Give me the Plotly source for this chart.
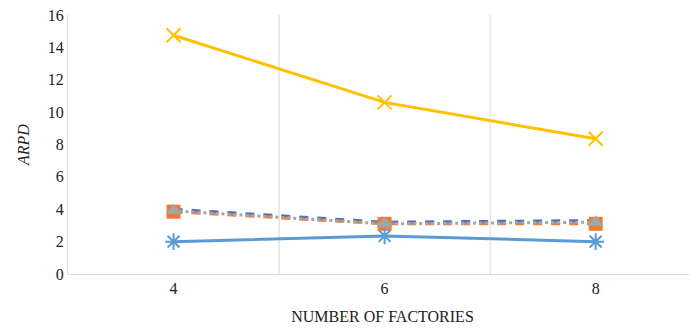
import plotly.graph_objects as go

categories = ["4", "6", "8"]
s1 = [2.0, 2.35, 2.0]      # light blue solid, asterisk
s2 = [3.85, 3.1, 3.1]      # orange dashed, square
s3 = [3.9, 3.1, 3.2]       # gray dashed, triangle
s4 = [14.75, 10.6, 8.35]   # yellow solid, x
s5 = [4.0, 3.2, 3.3]       # dark blue dashed

fig = go.Figure()
fig.add_trace(go.Scatter(x=categories, y=s5, mode="lines", line=dict(color="#4472C4", width=3, dash="dash")))
fig.add_trace(go.Scatter(x=categories, y=s2, mode="lines+markers", line=dict(color="#ED7D31", width=3, dash="dash"),
                         marker=dict(symbol="square", size=14, color="#ED7D31")))
fig.add_trace(go.Scatter(x=categories, y=s3, mode="lines+markers", line=dict(color="#A5A5A5", width=3, dash="dot"),
                         marker=dict(symbol="triangle-up", size=14, color="#A5A5A5")))
fig.add_trace(go.Scatter(x=categories, y=s1, mode="lines+markers", line=dict(color="#5B9BD5", width=3),
                         marker=dict(symbol="asterisk-open", size=14, line=dict(color="#5B9BD5", width=2))))
fig.add_trace(go.Scatter(x=categories, y=s4, mode="lines+markers", line=dict(color="#FFC000", width=3),
                         marker=dict(symbol="x-thin-open", size=14, line=dict(color="#FFC000", width=2))))

font = dict(family="Liberation Serif", size=16, color="#222")
fig.update_layout(
    width=697, height=335, showlegend=False,
    margin=dict(l=60, r=8, t=7, b=69),
    paper_bgcolor="white", plot_bgcolor="white", font=font,
    xaxis=dict(type="category", range=[-0.5, 2.48], showgrid=False, showline=True, linecolor="#D9D9D9",
               linewidth=1, ticks="", tickfont=font, automargin=False, ticklabeloverflow="allow",
               title=dict(text="NUMBER OF FACTORIES", font=font, standoff=14)),
    yaxis=dict(range=[0, 16], dtick=2, showgrid=False, showline=True, linecolor="#D9D9D9", linewidth=1,
               zeroline=False, ticks="", tickfont=font, automargin=False, ticklabeloverflow="allow",
               title=dict(text="<i>ARPD</i>", font=font, standoff=14)),
)
# vertical category-boundary gridlines
for xb in [0.5, 1.5]:
    fig.add_shape(type="line", xref="x", yref="paper", x0=xb, x1=xb, y0=0, y1=1,
                  line=dict(color="#D9D9D9", width=1), layer="below")

fig.write_html("out.html")
